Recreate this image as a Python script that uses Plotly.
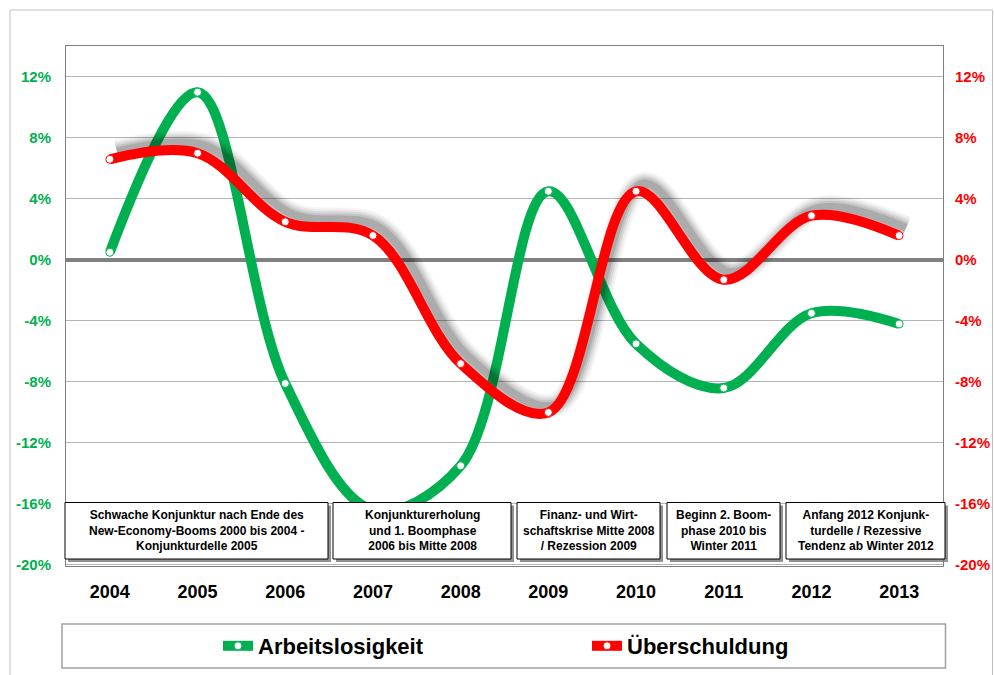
import plotly.graph_objects as go

years = [2004, 2005, 2006, 2007, 2008, 2009, 2010, 2011, 2012, 2013]
arbeitslosigkeit = [0.5, 11.0, -8.1, -16.4, -13.5, 4.5, -5.5, -8.4, -3.5, -4.2]
ueberschuldung = [6.6, 7.0, 2.5, 1.6, -6.8, -10.0, 4.5, -1.3, 2.9, 1.6]
y_ticks = [-20, -16, -12, -8, -4, 0, 4, 8, 12]
y_tick_labels = ["-20%", "-16%", "-12%", "-8%", "-4%", "0%", "4%", "8%", "12%"]
phase_texts = [
    "Schwache Konjunktur nach Ende des<br>New-Economy-Booms 2000 bis 2004 -<br>Konjunkturdelle 2005",
    "Konjunkturerholung<br>und 1. Boomphase<br>2006 bis Mitte 2008",
    "Finanz- und Wirt-<br>schaftskrise Mitte 2008<br>/ Rezession 2009",
    "Beginn 2. Boom-<br>phase 2010 bis<br>Winter 2011",
    "Anfang 2012 Konjunk-<br>turdelle / Rezessive<br>Tendenz ab Winter 2012",
]
# box extents in page pixels (left, right)
phase_boxes_px = [(65, 328), (333, 511), (517, 660), (667, 780), (786, 945)]

GREEN = "#00B050"
RED = "#FF0000"
FONT = "Liberation Sans, Arial, sans-serif"

W, H = 994, 675
L, R, T, B = 66, 51, 46, 109
pw, ph = W - L - R, H - T - B


def px_x(p):
    return (p - L) / pw


def px_y(p):
    return (H - B - p) / ph


fig = go.Figure()

fig.add_trace(go.Scatter(
    x=years, y=arbeitslosigkeit, name="Arbeitslosigkeit",
    mode="lines+markers",
    line=dict(color=GREEN, width=10, shape="spline", smoothing=1.0),
    marker=dict(color="white", size=8, line=dict(color=GREEN, width=1)),
    hoverinfo="skip",
))

# blurred shadow of the red line
shadow_x = [v + 0.08 for v in years]
shadow_y = [v + 0.5 for v in ueberschuldung]
for w, a in [(24, 0.04), (20, 0.05), (16, 0.07), (12, 0.09), (8, 0.12)]:
    fig.add_trace(go.Scatter(
        x=shadow_x, y=shadow_y, mode="lines", yaxis="y2",
        line=dict(color=f"rgba(0,0,0,{a})", width=w, shape="spline", smoothing=1.0),
        showlegend=False, hoverinfo="skip",
    ))

fig.add_trace(go.Scatter(
    x=years, y=ueberschuldung, name="Überschuldung", yaxis="y2",
    mode="lines+markers",
    line=dict(color=RED, width=10, shape="spline", smoothing=1.0),
    marker=dict(color="white", size=8, line=dict(color=RED, width=1)),
    hoverinfo="skip",
))

yrange = [-20.07, 14.03]
shapes = []
annotations = []

# outer chart border
shapes.append(dict(type="rect", xref="paper", yref="paper",
                   x0=px_x(10), x1=px_x(992.5), y0=px_y(700), y1=px_y(10),
                   line=dict(color="#C0C0C0", width=1), layer="below"))
# legend border
shapes.append(dict(type="rect", xref="paper", yref="paper",
                   x0=px_x(62), x1=px_x(945.5), y0=px_y(668), y1=px_y(624),
                   line=dict(color="#A0A0A0", width=1.5), layer="below"))

box_top, box_bot = 502.5, 559
for (x0, x1), txt in zip(phase_boxes_px, phase_texts):
    shapes.append(dict(type="rect", xref="paper", yref="paper",
                       x0=px_x(x0 + 3), x1=px_x(x1 + 3), y0=px_y(box_bot + 3), y1=px_y(box_top + 3),
                       line=dict(width=0), fillcolor="rgba(110,110,110,0.75)", layer="above"))
    shapes.append(dict(type="rect", xref="paper", yref="paper",
                       x0=px_x(x0), x1=px_x(x1), y0=px_y(box_bot), y1=px_y(box_top),
                       line=dict(color="#000000", width=1), fillcolor="white", layer="above"))
    annotations.append(dict(xref="paper", yref="paper",
                            x=px_x((x0 + x1) / 2), y=px_y((box_top + box_bot) / 2),
                            xanchor="center", yanchor="middle",
                            text=txt, showarrow=False, align="center",
                            font=dict(family=FONT, size=12, color="black", weight="bold")))

fig.update_layout(
    width=W, height=H,
    margin=dict(l=L, r=R, t=T, b=B, autoexpand=False),
    paper_bgcolor="white", plot_bgcolor="white",
    showlegend=True,
    legend=dict(orientation="h", x=px_x(218), xanchor="left", y=px_y(646), yanchor="middle",
                font=dict(family=FONT, size=22, color="black", weight="bold"),
                bgcolor="rgba(0,0,0,0)", borderwidth=0, entrywidth=324, entrywidthmode="pixels",
                itemwidth=30),
    xaxis=dict(range=[2003.5, 2013.5], tickvals=years, tickformat="d",
               showgrid=False, zeroline=False, showline=True, mirror=True,
               linecolor="#808080", linewidth=1, ticks="", ticklabelstandoff=9,
               tickfont=dict(family=FONT, size=18, color="black", weight="bold")),
    yaxis=dict(range=yrange, tickvals=y_ticks, ticktext=y_tick_labels,
               showgrid=True, gridcolor="#B4B4B4", gridwidth=1,
               zeroline=True, zerolinecolor="#808080", zerolinewidth=4,
               showline=True, mirror=True, linecolor="#808080", linewidth=1,
               ticks="", ticklabelstandoff=11,
               tickfont=dict(family=FONT, size=15, color=GREEN, weight="bold")),
    yaxis2=dict(range=yrange, tickvals=y_ticks, ticktext=y_tick_labels, overlaying="y", side="right",
                showgrid=False, zeroline=False, showline=False, ticks="", ticklabelstandoff=11,
                tickfont=dict(family=FONT, size=15, color=RED, weight="bold")),
    shapes=shapes,
    annotations=annotations,
)

fig.write_html(
    "out.html",
    config={"displayModeBar": False},
    post_script="document.body.style.margin='0';document.body.style.overflow='hidden';",
)
